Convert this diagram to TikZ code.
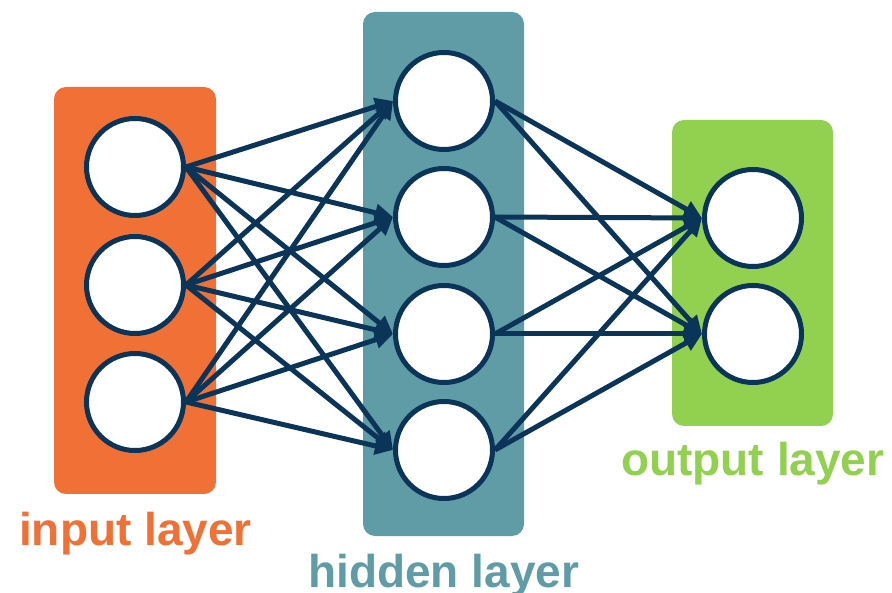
\documentclass[tikz,border=0pt]{standalone}
\usepackage{fontspec}
\setmainfont{Liberation Sans}
\usetikzlibrary{arrows.meta}
\definecolor{inorange}{HTML}{F07035}
\definecolor{hidteal}{HTML}{5F9CA6}
\definecolor{outgreen}{HTML}{92D050}
\definecolor{edgenavy}{HTML}{0B3459}
\begin{document}
\begin{tikzpicture}[x=1pt,y=-1pt,
  neuron/.style={circle, draw=edgenavy, line width=5pt, fill=white,
    minimum size=97pt, inner sep=0pt},
  layerbox/.style={rounded corners=12pt},
  link/.style={draw=edgenavy, line width=5pt,
    -{Triangle[length=18pt,width=17pt]}},
  caption/.style={font=\fontsize{46}{46}\selectfont\bfseries,
    anchor=base west, inner sep=0pt}]
  \useasboundingbox (0,0) rectangle (892,593);

  % layer backgrounds
  \fill[inorange, layerbox] (54,87) rectangle (216,494);
  \fill[hidteal, layerbox] (363,12) rectangle (524,536);
  \fill[outgreen, layerbox] (672,120) rectangle (833,426);

  % neurons
  \foreach \n/\y in {1/167, 2/285, 3/402}
    \node[neuron] (i\n) at (135,\y) {};
  \foreach \n/\y in {1/101, 2/217, 3/334, 4/450}
    \node[neuron] (h\n) at (444,\y) {};
  \foreach \n/\y in {1/218, 2/334}
    \node[neuron] (o\n) at (753,\y) {};

  % weighted connections
  \foreach \a in {1,2,3}
    \foreach \b in {1,2,3,4}
      \draw[link] (i\a.east) -- (h\b.west);
  \foreach \a in {1,2,3,4}
    \foreach \b in {1,2}
      \draw[link] (h\a.east) -- (o\b.west);

  % layer captions
  \node[caption, text=inorange] (capin) at (19,545) {input layer};
  \node[caption, text=hidteal] (caphid) at (308,587) {hidden layer};
  \node[caption, text=outgreen] (capout) at (621,476) {output layer};
\end{tikzpicture}
\end{document}
